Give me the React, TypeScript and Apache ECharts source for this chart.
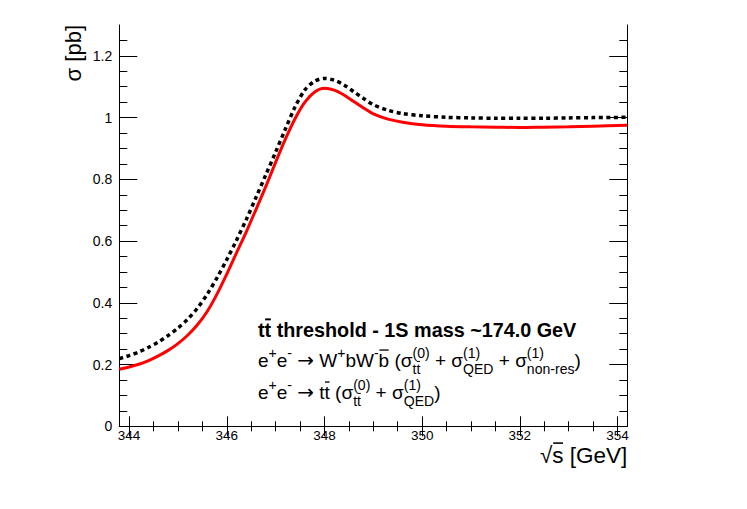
import React, { useEffect, useRef } from 'react';
import * as echarts from 'echarts';

// ---------- data ----------
const xMajorTicks = [344, 346, 348, 350, 352, 354];
const xMinorTicks = [344.5, 345, 345.5, 346.5, 347, 347.5, 348.5, 349, 349.5, 350.5, 351, 351.5, 352.5, 353, 353.5];
const yMajorTicks = [0, 0.2, 0.4, 0.6, 0.8, 1, 1.2];
const yMinorTicks = [0.05, 0.1, 0.15, 0.25, 0.3, 0.35, 0.45, 0.5, 0.55, 0.65, 0.7, 0.75, 0.85, 0.9, 0.95, 1.05, 1.1, 1.15, 1.25];

// e+e- -> W+bW-bbar (sigma0 + QED + non-res) : black dotted
const energyFull = [343.8, 344.0, 344.2, 344.4, 344.6, 344.8, 345.0, 345.2, 345.4, 345.6, 345.8, 346.0, 346.2, 346.4, 346.6, 346.8, 347.0, 347.2, 347.4, 347.6, 347.8, 348.0, 348.2, 348.4, 348.6, 348.8, 349.0, 349.3, 349.6, 350.0, 350.5, 351.0, 351.5, 352.0, 352.5, 353.0, 353.5, 354.2];
const sigmaFull = [0.219, 0.229, 0.241, 0.256, 0.273, 0.294, 0.318, 0.347, 0.383, 0.428, 0.481, 0.540, 0.603, 0.670, 0.742, 0.815, 0.888, 0.963, 1.035, 1.090, 1.118, 1.127, 1.121, 1.106, 1.084, 1.062, 1.042, 1.024, 1.013, 1.006, 1.001, 0.999, 0.998, 0.998, 0.998, 0.999, 1.000, 1.001];

// e+e- -> ttbar (sigma0 + QED) : red solid
const energyTT = [343.8, 344.0, 344.2, 344.4, 344.6, 344.8, 345.0, 345.2, 345.4, 345.6, 345.8, 346.0, 346.2, 346.4, 346.6, 346.8, 347.0, 347.2, 347.4, 347.6, 347.8, 348.0, 348.2, 348.4, 348.6, 348.8, 349.0, 349.3, 349.6, 350.0, 350.5, 351.0, 351.5, 352.0, 352.5, 353.0, 353.5, 354.2];
const sigmaTT = [0.185, 0.192, 0.201, 0.213, 0.228, 0.246, 0.268, 0.295, 0.329, 0.372, 0.428, 0.493, 0.562, 0.630, 0.703, 0.777, 0.855, 0.930, 0.997, 1.050, 1.083, 1.095, 1.089, 1.073, 1.052, 1.031, 1.012, 0.995, 0.985, 0.977, 0.972, 0.970, 0.969, 0.968, 0.969, 0.970, 0.972, 0.975];

// ---------- text layout helpers ----------
const FONT = '"Liberation Sans", Arial, Helvetica, sans-serif';
const ARROW_FONT = '"DejaVu Sans", sans-serif';

let measureCtx: CanvasRenderingContext2D | null = null;
function textWidth(text: string, size: number, bold: boolean, family = FONT): number {
  if (!measureCtx) measureCtx = document.createElement('canvas').getContext('2d');
  measureCtx!.font = `${bold ? 'bold ' : ''}${size}px ${family}`;
  return measureCtx!.measureText(text).width;
}

type Tok = { t: string; bar?: boolean; fam?: string; scale?: number };
type Item = { n?: Tok[]; sup?: Tok[]; sub?: Tok[] };
const SCRIPT = 0.74;
const SUP_RAISE = 0.47;
const SUB_DROP = 0.38;

function tokRun(toks: Tok[], x: number, baseline: number, size: number, bold: boolean, out: any[]): number {
  for (const tk of toks) {
    const fam = tk.fam || FONT;
    const sz = size * (tk.scale || 1);
    const w = textWidth(tk.t, sz, bold, fam);
    out.push({
      type: 'text',
      x,
      y: baseline - 0.31 * size,
      silent: true,
      style: {
        text: tk.t,
        fontSize: sz,
        fontFamily: fam,
        fontWeight: bold ? 'bold' : 'normal',
        fill: '#000',
        align: 'left',
        verticalAlign: 'middle',
      },
    });
    if (tk.bar) {
      const yb = baseline - 0.84 * size;
      out.push({
        type: 'line',
        silent: true,
        shape: { x1: x + 0.08 * w, y1: yb, x2: x + 0.95 * w, y2: yb },
        style: { stroke: '#000', lineWidth: Math.max(1, size * (bold ? 0.1 : 0.07)) },
      });
    }
    x += w;
  }
  return x;
}

function runWidth(toks: Tok[], size: number, bold: boolean): number {
  let w = 0;
  for (const tk of toks) w += textWidth(tk.t, size * (tk.scale || 1), bold, tk.fam || FONT);
  return w;
}

function lineWidth(items: Item[], size: number, bold: boolean): number {
  let w = 0;
  for (const it of items) {
    if (it.n) w += runWidth(it.n, size, bold);
    else {
      const s = size * SCRIPT;
      w += Math.max(it.sup ? runWidth(it.sup, s, bold) : 0, it.sub ? runWidth(it.sub, s, bold) : 0);
    }
  }
  return w;
}

function layoutLine(items: Item[], x0: number, baseline: number, size: number, bold: boolean, alignRight = false): any[] {
  const out: any[] = [];
  let x = alignRight ? x0 - lineWidth(items, size, bold) : x0;
  for (const it of items) {
    if (it.n) x = tokRun(it.n, x, baseline, size, bold, out);
    else {
      const s = size * SCRIPT;
      let w1 = 0, w2 = 0;
      if (it.sup) w1 = tokRun(it.sup, x, baseline - SUP_RAISE * size, s, bold, out) - x;
      if (it.sub) w2 = tokRun(it.sub, x, baseline + SUB_DROP * size, s, bold, out) - x;
      x += Math.max(w1, w2);
    }
  }
  return out;
}

const T = (t: string, bar = false): Tok => ({ t, bar });
const ARROW: Tok = { t: '\u2192', fam: ARROW_FONT, scale: 1.05 };
const ttbar: Tok[] = [T('t'), T('t', true)];

const titleLine: Item[] = [{ n: [T('t'), T('t', true), T(' threshold - 1S mass ~174.0 GeV')] }];
const fullLine: Item[] = [
  { n: [T('e')] }, { sup: [T('+')] }, { n: [T('e')] }, { sup: [T('-')] },
  { n: [T(' '), ARROW, T(' W')] }, { sup: [T('+')] }, { n: [T('bW')] }, { sup: [T('-')] },
  { n: [T('b', true), T(' (\u03c3')] }, { sup: [T('(0)')], sub: ttbar },
  { n: [T(' + \u03c3')] }, { sup: [T('(1)')], sub: [T('QED')] },
  { n: [T(' + \u03c3')] }, { sup: [T('(1)')], sub: [T('non-res')] },
  { n: [T(')')] },
];
const ttLine: Item[] = [
  { n: [T('e')] }, { sup: [T('+')] }, { n: [T('e')] }, { sup: [T('-')] },
  { n: [T(' '), ARROW, T(' '), T('t'), T('t', true), T(' (\u03c3')] }, { sup: [T('(0)')], sub: ttbar },
  { n: [T(' + \u03c3')] }, { sup: [T('(1)')], sub: [T('QED')] },
  { n: [T(')')] },
];
const xTitle: Item[] = [{ n: [T('\u221a'), T('s', true), T(' [GeV]')] }];

// ---------- component ----------
export default function App() {
  const ref = useRef<HTMLDivElement>(null);

  useEffect(() => {
    if (!ref.current) return;
    const chart = echarts.init(ref.current, undefined, { renderer: 'svg' });

    const gridL = 119.3, gridR = 627.3, gridT = 25, gridB = 426.3;
    const W = 747, H = 509;
    const xMin = 343.8, xMax = 354.2, yMin = 0, yMax = 1.3;

    const axisLineStyle = { color: '#000', width: 1 };
    const tickStyle = { color: '#000', width: 1 };

    const mkX = (position: 'top' | 'bottom', major: boolean, labels: boolean) => ({
      type: 'value',
      min: xMin,
      max: xMax,
      position,
      axisLine: { show: major, lineStyle: axisLineStyle },
      axisTick: { show: true, inside: true, length: major ? 10 : 5, lineStyle: tickStyle, customValues: major ? xMajorTicks : xMinorTicks },
      axisLabel: labels
        ? { show: true, customValues: xMajorTicks, margin: 2, color: '#000', fontSize: 13.5, fontFamily: FONT }
        : { show: false },
      splitLine: { show: false },
    });
    const mkY = (position: 'left' | 'right', major: boolean, labels: boolean) => ({
      type: 'value',
      min: yMin,
      max: yMax,
      position,
      axisLine: { show: major, lineStyle: axisLineStyle },
      axisTick: { show: true, inside: true, length: major ? 18 : 8, lineStyle: tickStyle, customValues: major ? yMajorTicks : yMinorTicks },
      axisLabel: labels
        ? { show: true, customValues: yMajorTicks, margin: 7, color: '#000', fontSize: 14, fontFamily: FONT }
        : { show: false },
      splitLine: { show: false },
    });

    const graphics: any[] = [
      ...layoutLine(titleLine, 258, 336, 19.8, true),
      ...layoutLine(fullLine, 258, 366, 19, false),
      ...layoutLine(ttLine, 258, 398, 19, false),
      ...layoutLine(xTitle, gridR, 462, 22.5, false, true),
      {
        type: 'text',
        x: 73,
        y: gridT,
        rotation: Math.PI / 2,
        silent: true,
        style: { text: '\u03c3 [pb]', fontSize: 22, fontFamily: FONT, fill: '#000', align: 'right', verticalAlign: 'middle' },
      },
    ];

    chart.setOption({
      animation: false,
      backgroundColor: '#fff',
      grid: { left: gridL, right: W - gridR, top: gridT, bottom: H - gridB, containLabel: false },
      xAxis: [mkX('bottom', true, true), mkX('bottom', false, false), mkX('top', true, false), mkX('top', false, false)],
      yAxis: [mkY('left', true, true), mkY('left', false, false), mkY('right', true, false), mkY('right', false, false)],
      series: [
        {
          name: 'full',
          type: 'line',
          xAxisIndex: 0,
          yAxisIndex: 0,
          data: energyFull.map((e, i) => [e, sigmaFull[i]]),
          showSymbol: false,
          smooth: 0.3,
          lineStyle: { color: '#000', width: 3.5, type: [4, 3.5], cap: 'butt' },
          z: 3,
        },
        {
          name: 'tt',
          type: 'line',
          xAxisIndex: 0,
          yAxisIndex: 0,
          data: energyTT.map((e, i) => [e, sigmaTT[i]]),
          showSymbol: false,
          smooth: 0.3,
          lineStyle: { color: '#ff0000', width: 3 },
          z: 4,
        },
      ],
      graphic: graphics,
    });

    return () => chart.dispose();
  }, []);

  return <div ref={ref} style={{ position: 'absolute', left: 0, top: 0, width: 747, height: 509 }} />;
}
